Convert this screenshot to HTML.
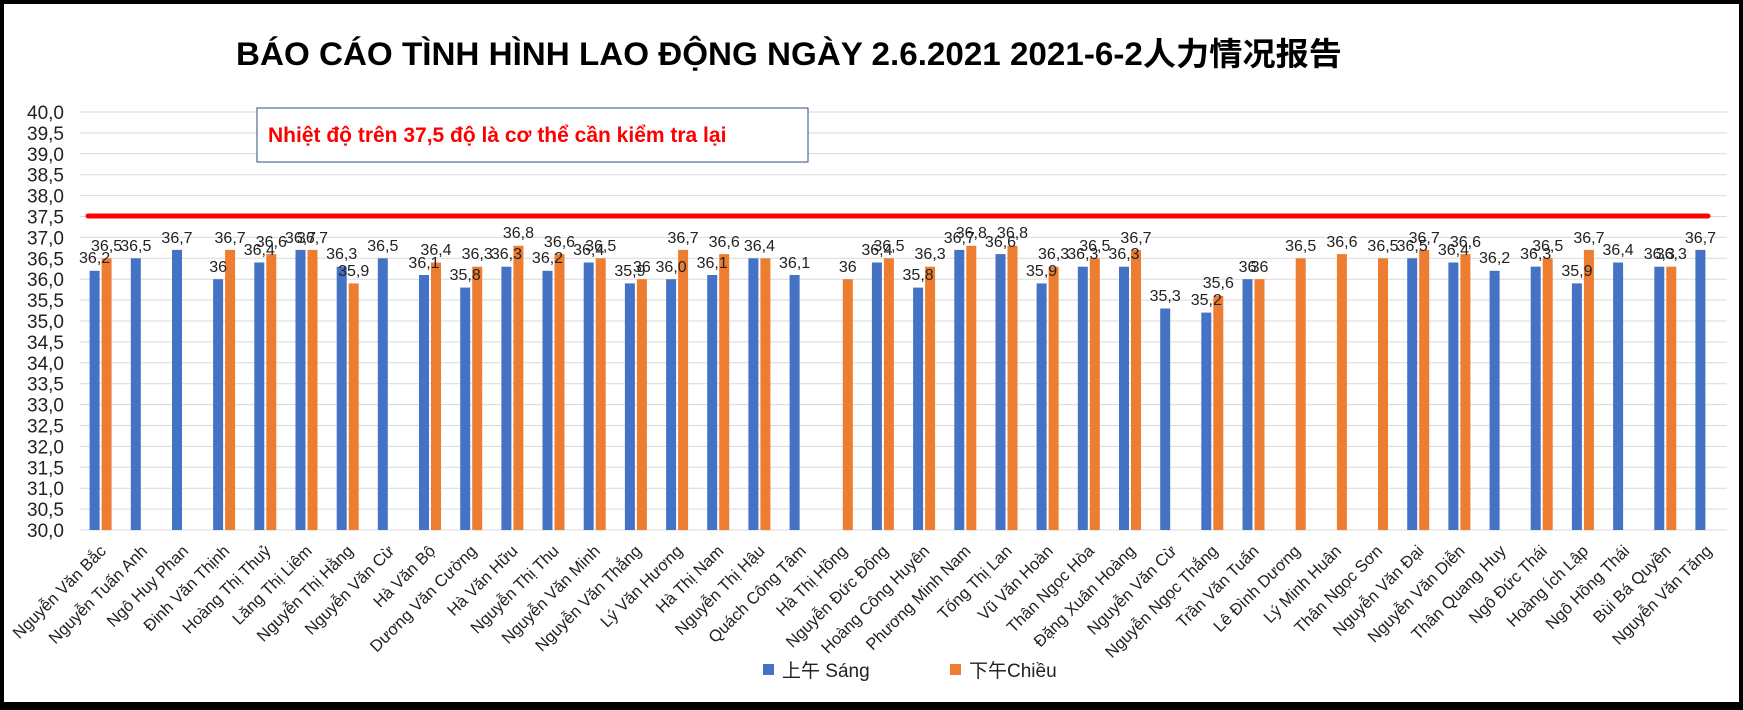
<!DOCTYPE html>
<html><head><meta charset="utf-8"><style>
html,body{margin:0;padding:0;background:#000;}
svg{display:block;}
text{font-family:"Liberation Sans","Noto Sans CJK SC",sans-serif;}
.yl{font-size:19px;fill:#222;text-anchor:end;}
.dl{font-size:16px;fill:#222;text-anchor:middle;}
.xl{font-size:16.5px;fill:#222;text-anchor:end;}
.b rect{fill:#4472c4;}
.o rect{fill:#ed7d31;}
</style></head><body>
<svg width="1743" height="710" viewBox="0 0 1743 710" xmlns="http://www.w3.org/2000/svg">
<defs><clipPath id="c"><rect x="0" y="0" width="1743" height="530"/></clipPath></defs>
<rect x="4" y="4" width="1735" height="698" fill="#fff"/>
<text x="236" y="65" font-size="32" font-weight="bold" textLength="1106" lengthAdjust="spacingAndGlyphs">BÁO CÁO TÌNH HÌNH LAO ĐỘNG NGÀY 2.6.2021  2021-6-2人力情况报告</text>
<g stroke="#d9d9d9" stroke-width="1">
<line x1="80" x2="1727" y1="112" y2="112"/><line x1="80" x2="1727" y1="132.9" y2="132.9"/><line x1="80" x2="1727" y1="153.8" y2="153.8"/><line x1="80" x2="1727" y1="174.7" y2="174.7"/><line x1="80" x2="1727" y1="195.6" y2="195.6"/><line x1="80" x2="1727" y1="216.5" y2="216.5"/><line x1="80" x2="1727" y1="237.4" y2="237.4"/><line x1="80" x2="1727" y1="258.3" y2="258.3"/><line x1="80" x2="1727" y1="279.2" y2="279.2"/><line x1="80" x2="1727" y1="300.1" y2="300.1"/><line x1="80" x2="1727" y1="321" y2="321"/><line x1="80" x2="1727" y1="341.9" y2="341.9"/><line x1="80" x2="1727" y1="362.8" y2="362.8"/><line x1="80" x2="1727" y1="383.7" y2="383.7"/><line x1="80" x2="1727" y1="404.6" y2="404.6"/><line x1="80" x2="1727" y1="425.5" y2="425.5"/><line x1="80" x2="1727" y1="446.4" y2="446.4"/><line x1="80" x2="1727" y1="467.3" y2="467.3"/><line x1="80" x2="1727" y1="488.2" y2="488.2"/><line x1="80" x2="1727" y1="509.1" y2="509.1"/><line x1="80" x2="1727" y1="530" y2="530"/>
</g>
<g class="yl">
<text x="64" y="119">40,0</text><text x="64" y="139.9">39,5</text><text x="64" y="160.8">39,0</text><text x="64" y="181.7">38,5</text><text x="64" y="202.6">38,0</text><text x="64" y="223.5">37,5</text><text x="64" y="244.4">37,0</text><text x="64" y="265.3">36,5</text><text x="64" y="286.2">36,0</text><text x="64" y="307.1">35,5</text><text x="64" y="328">35,0</text><text x="64" y="348.9">34,5</text><text x="64" y="369.8">34,0</text><text x="64" y="390.7">33,5</text><text x="64" y="411.6">33,0</text><text x="64" y="432.5">32,5</text><text x="64" y="453.4">32,0</text><text x="64" y="474.3">31,5</text><text x="64" y="495.2">31,0</text><text x="64" y="516.1">30,5</text><text x="64" y="537">30,0</text>
</g>
<g clip-path="url(#c)">
<g class="b">
<rect x="89.6" y="270.8" width="10" height="300"/><rect x="130.8" y="258.3" width="10" height="300"/><rect x="172" y="249.9" width="10" height="300"/><rect x="213.1" y="279.2" width="10" height="300"/><rect x="254.3" y="262.5" width="10" height="300"/><rect x="295.5" y="249.9" width="10" height="300"/><rect x="336.7" y="266.7" width="10" height="300"/><rect x="377.8" y="258.3" width="10" height="300"/><rect x="419" y="275" width="10" height="300"/><rect x="460.2" y="287.6" width="10" height="300"/><rect x="501.4" y="266.7" width="10" height="300"/><rect x="542.5" y="270.8" width="10" height="300"/><rect x="583.7" y="262.5" width="10" height="300"/><rect x="624.9" y="283.4" width="10" height="300"/><rect x="666.1" y="279.2" width="10" height="300"/><rect x="707.2" y="275" width="10" height="300"/><rect x="748.4" y="258.3" width="10" height="300"/><rect x="789.6" y="275" width="10" height="300"/><rect x="871.9" y="262.5" width="10" height="300"/><rect x="913.1" y="287.6" width="10" height="300"/><rect x="954.3" y="249.9" width="10" height="300"/><rect x="995.5" y="254.1" width="10" height="300"/><rect x="1036.6" y="283.4" width="10" height="300"/><rect x="1077.8" y="266.7" width="10" height="300"/><rect x="1119" y="266.7" width="10" height="300"/><rect x="1160.2" y="308.5" width="10" height="300"/><rect x="1201.3" y="312.6" width="10" height="300"/><rect x="1242.5" y="279.2" width="10" height="300"/><rect x="1407.2" y="258.3" width="10" height="300"/><rect x="1448.4" y="262.5" width="10" height="300"/><rect x="1489.6" y="270.8" width="10" height="300"/><rect x="1530.7" y="266.7" width="10" height="300"/><rect x="1571.9" y="283.4" width="10" height="300"/><rect x="1613.1" y="262.5" width="10" height="300"/><rect x="1654.3" y="266.7" width="10" height="300"/><rect x="1695.4" y="249.9" width="10" height="300"/>
</g>
<g class="o">
<rect x="101.6" y="258.3" width="10" height="300"/><rect x="225.1" y="249.9" width="10" height="300"/><rect x="266.3" y="254.1" width="10" height="300"/><rect x="307.5" y="249.9" width="10" height="300"/><rect x="348.7" y="283.4" width="10" height="300"/><rect x="431" y="262.5" width="10" height="300"/><rect x="472.2" y="266.7" width="10" height="300"/><rect x="513.4" y="245.8" width="10" height="300"/><rect x="554.5" y="254.1" width="10" height="300"/><rect x="595.7" y="258.3" width="10" height="300"/><rect x="636.9" y="279.2" width="10" height="300"/><rect x="678.1" y="249.9" width="10" height="300"/><rect x="719.2" y="254.1" width="10" height="300"/><rect x="760.4" y="258.3" width="10" height="300"/><rect x="842.8" y="279.2" width="10" height="300"/><rect x="883.9" y="258.3" width="10" height="300"/><rect x="925.1" y="266.7" width="10" height="300"/><rect x="966.3" y="245.8" width="10" height="300"/><rect x="1007.5" y="245.8" width="10" height="300"/><rect x="1048.6" y="266.7" width="10" height="300"/><rect x="1089.8" y="258.3" width="10" height="300"/><rect x="1131" y="249.9" width="10" height="300"/><rect x="1213.3" y="295.9" width="10" height="300"/><rect x="1254.5" y="279.2" width="10" height="300"/><rect x="1295.7" y="258.3" width="10" height="300"/><rect x="1336.9" y="254.1" width="10" height="300"/><rect x="1378" y="258.3" width="10" height="300"/><rect x="1419.2" y="249.9" width="10" height="300"/><rect x="1460.4" y="254.1" width="10" height="300"/><rect x="1542.7" y="258.3" width="10" height="300"/><rect x="1583.9" y="249.9" width="10" height="300"/><rect x="1666.3" y="266.7" width="10" height="300"/>
</g>
</g>
<line x1="88" x2="1708" y1="216" y2="216" stroke="#ff0000" stroke-width="5" stroke-linecap="round"/>
<rect x="257" y="108" width="551" height="54" fill="#fff" stroke="#2f4b7c" stroke-width="1"/>
<text x="268" y="142" font-size="21" font-weight="bold" fill="#ff0000">Nhiệt độ trên 37,5 độ là cơ thể cần kiểm tra lại</text>
<g class="dl">
<text x="94.6" y="263">36,2</text><text x="106.6" y="251">36,5</text>
<text x="135.8" y="251">36,5</text>
<text x="177" y="243">36,7</text>
<text x="218.1" y="272">36</text><text x="230.1" y="243">36,7</text>
<text x="259.3" y="255">36,4</text><text x="271.3" y="247">36,6</text>
<text x="300.5" y="243">36,7</text><text x="312.5" y="243">36,7</text>
<text x="341.7" y="259">36,3</text><text x="353.7" y="276">35,9</text>
<text x="382.8" y="251">36,5</text>
<text x="424" y="268">36,1</text><text x="436" y="255">36,4</text>
<text x="465.2" y="280">35,8</text><text x="477.2" y="259">36,3</text>
<text x="506.4" y="259">36,3</text><text x="518.4" y="238">36,8</text>
<text x="547.5" y="263">36,2</text><text x="559.5" y="247">36,6</text>
<text x="588.7" y="255">36,4</text><text x="600.7" y="251">36,5</text>
<text x="629.9" y="276">35,9</text><text x="641.9" y="272">36</text>
<text x="671.1" y="272">36,0</text><text x="683.1" y="243">36,7</text>
<text x="712.2" y="268">36,1</text><text x="724.2" y="247">36,6</text>
<text x="759.4" y="251">36,4</text>
<text x="794.6" y="268">36,1</text>
<text x="847.8" y="272">36</text>
<text x="876.9" y="255">36,4</text><text x="888.9" y="251">36,5</text>
<text x="918.1" y="280">35,8</text><text x="930.1" y="259">36,3</text>
<text x="959.3" y="243">36,7</text><text x="971.3" y="238">36,8</text>
<text x="1000.5" y="247">36,6</text><text x="1012.5" y="238">36,8</text>
<text x="1041.6" y="276">35,9</text><text x="1053.6" y="259">36,3</text>
<text x="1082.8" y="259">36,3</text><text x="1094.8" y="251">36,5</text>
<text x="1124" y="259">36,3</text><text x="1136" y="243">36,7</text>
<text x="1165.2" y="301">35,3</text>
<text x="1206.3" y="305">35,2</text><text x="1218.3" y="288">35,6</text>
<text x="1247.5" y="272">36</text><text x="1259.5" y="272">36</text>
<text x="1300.7" y="251">36,5</text>
<text x="1341.9" y="247">36,6</text>
<text x="1383" y="251">36,5</text>
<text x="1412.2" y="251">36,5</text><text x="1424.2" y="243">36,7</text>
<text x="1453.4" y="255">36,4</text><text x="1465.4" y="247">36,6</text>
<text x="1494.6" y="263">36,2</text>
<text x="1535.7" y="259">36,3</text><text x="1547.7" y="251">36,5</text>
<text x="1576.9" y="276">35,9</text><text x="1588.9" y="243">36,7</text>
<text x="1618.1" y="255">36,4</text>
<text x="1659.3" y="259">36,3</text><text x="1671.3" y="259">36,3</text>
<text x="1700.4" y="243">36,7</text>
</g>
<g class="xl">
<text transform="translate(107,552) rotate(-45)">Nguyễn  Văn Bắc</text>
<text transform="translate(148.2,552) rotate(-45)">Nguyễn Tuấn Anh</text>
<text transform="translate(189.4,552) rotate(-45)">Ngô Huy Phan</text>
<text transform="translate(230.5,552) rotate(-45)">Đinh Văn Thịnh</text>
<text transform="translate(271.7,552) rotate(-45)">Hoàng Thị Thuỷ</text>
<text transform="translate(312.9,552) rotate(-45)">Lăng Thị Liêm</text>
<text transform="translate(354.1,552) rotate(-45)">Nguyễn Thị Hằng</text>
<text transform="translate(395.2,552) rotate(-45)">Nguyễn  Văn Cừ</text>
<text transform="translate(436.4,552) rotate(-45)">Hà Văn Bộ</text>
<text transform="translate(477.6,552) rotate(-45)">Dương Văn Cường</text>
<text transform="translate(518.8,552) rotate(-45)">Hà Văn Hữu</text>
<text transform="translate(559.9,552) rotate(-45)">Nguyễn  Thị Thu</text>
<text transform="translate(601.1,552) rotate(-45)">Nguyễn  Văn Minh</text>
<text transform="translate(642.3,552) rotate(-45)">Nguyễn  Văn Thắng</text>
<text transform="translate(683.5,552) rotate(-45)">Lý Văn Hương</text>
<text transform="translate(724.6,552) rotate(-45)">Hà Thị Nam</text>
<text transform="translate(765.8,552) rotate(-45)">Nguyễn Thị Hậu</text>
<text transform="translate(807,552) rotate(-45)">Quách Công Tâm</text>
<text transform="translate(848.2,552) rotate(-45)">Hà Thị Hồng</text>
<text transform="translate(889.3,552) rotate(-45)">Nguyễn Đức Đông</text>
<text transform="translate(930.5,552) rotate(-45)">Hoàng Công Huyên</text>
<text transform="translate(971.7,552) rotate(-45)">Phương Minh Nam</text>
<text transform="translate(1012.9,552) rotate(-45)">Tống Thị Lan</text>
<text transform="translate(1054,552) rotate(-45)">Vũ Văn Hoàn</text>
<text transform="translate(1095.2,552) rotate(-45)">Thân Ngọc Hòa</text>
<text transform="translate(1136.4,552) rotate(-45)">Đặng Xuân Hoàng</text>
<text transform="translate(1177.6,552) rotate(-45)">Nguyễn  Văn Cừ</text>
<text transform="translate(1218.7,552) rotate(-45)">Nguyễn Ngọc Thắng</text>
<text transform="translate(1259.9,552) rotate(-45)">Trần Văn Tuấn</text>
<text transform="translate(1301.1,552) rotate(-45)">Lê Đình Dương</text>
<text transform="translate(1342.3,552) rotate(-45)">Lý Minh Huân</text>
<text transform="translate(1383.4,552) rotate(-45)">Thân Ngọc Sơn</text>
<text transform="translate(1424.6,552) rotate(-45)">Nguyễn  Văn Đại</text>
<text transform="translate(1465.8,552) rotate(-45)">Nguyễn  Văn Diễn</text>
<text transform="translate(1507,552) rotate(-45)">Thân Quang Huy</text>
<text transform="translate(1548.1,552) rotate(-45)">Ngô Đức Thái</text>
<text transform="translate(1589.3,552) rotate(-45)">Hoàng Ích Lập</text>
<text transform="translate(1630.5,552) rotate(-45)">Ngô Hồng Thái</text>
<text transform="translate(1671.7,552) rotate(-45)">Bùi Bá Quyền</text>
<text transform="translate(1712.8,552) rotate(-45)">Nguyễn  Văn Tăng</text>
</g>
<rect x="763" y="664" width="11" height="11" fill="#4472c4"/>
<text x="782" y="677" font-size="19" fill="#222">上午 Sáng</text>
<rect x="950" y="664" width="11" height="11" fill="#ed7d31"/>
<text x="969" y="677" font-size="19" fill="#222">下午Chiều</text>
</svg>
</body></html>
